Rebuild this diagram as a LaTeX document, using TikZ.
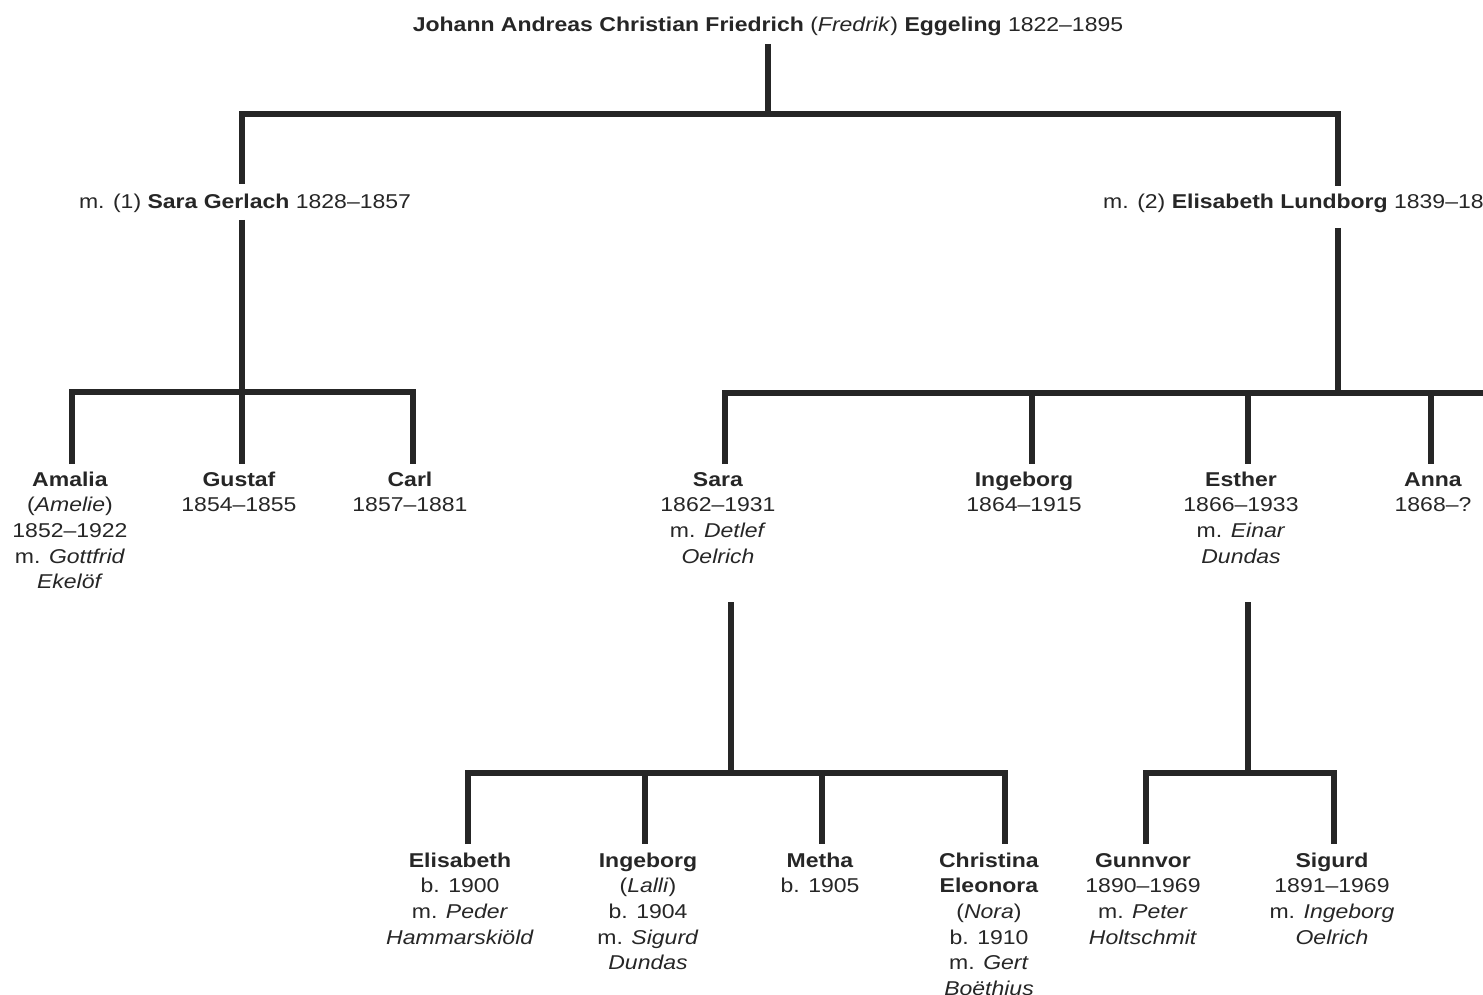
\documentclass[tikz,border=0pt]{standalone}
\usepackage{fontspec}
\setmainfont[FakeStretch=1.15]{Liberation Sans}
\begin{document}
\begin{tikzpicture}[x=1pt,y=-1pt,
  ln/.style={line width=5.5pt,color=black!85,line join=miter},
  txt/.style={inner sep=0pt,align=center,font=\fontsize{20}{25.7}\selectfont,text=black!85},
  pers/.style={txt,anchor=north}]
\useasboundingbox (0,0) rectangle (1483,995);
\clip (0,0) rectangle (1483,995);
% title and marriages
\node[txt,anchor=base] (T) at (768,32) {\textbf{Johann Andreas Christian Friedrich} (\textit{Fredrik}) \textbf{Eggeling} 1822--1895};
\node[txt,anchor=base] (M1) at (245,208) {m. (1) \textbf{Sara Gerlach} 1828--1857};
\node[txt,anchor=base west] (M2) at (1103,208) {m. (2) \textbf{Elisabeth Lundborg} 1839--1888};
% generation 2
\node[pers] (amalia) at (70,468) {\strut\textbf{Amalia}\\(\textit{Amelie})\\1852--1922\\m. \textit{Gottfrid}\\\textit{Ekelöf}};
\node[pers] (gustaf) at (239,468) {\strut\textbf{Gustaf}\\1854--1855};
\node[pers] (carl) at (410,468) {\strut\textbf{Carl}\\1857--1881};
\node[pers] (sara) at (718,468) {\strut\textbf{Sara}\\1862--1931\\m. \textit{Detlef}\\\textit{Oelrich}};
\node[pers] (ingeborg) at (1024,468) {\strut\textbf{Ingeborg}\\1864--1915};
\node[pers] (esther) at (1241,468) {\strut\textbf{Esther}\\1866--1933\\m. \textit{Einar}\\\textit{Dundas}};
\node[pers] (anna) at (1433,468) {\strut\textbf{Anna}\\1868--?};
% generation 3
\node[pers] (elisabeth) at (460,849) {\strut\textbf{Elisabeth}\\b. 1900\\m. \textit{Peder}\\\textit{Hammarskiöld}};
\node[pers] (ingeborg2) at (648,849) {\strut\textbf{Ingeborg}\\(\textit{Lalli})\\b. 1904\\m. \textit{Sigurd}\\\textit{Dundas}};
\node[pers] (metha) at (820,849) {\strut\textbf{Metha}\\b. 1905};
\node[pers] (christina) at (989,849) {\strut\textbf{Christina}\\\textbf{Eleonora}\\(\textit{Nora})\\b. 1910\\m. \textit{Gert}\\\textit{Boëthius}};
\node[pers] (gunnvor) at (1143,849) {\strut\textbf{Gunnvor}\\1890--1969\\m. \textit{Peter}\\\textit{Holtschmit}};
\node[pers] (sigurd) at (1332,849) {\strut\textbf{Sigurd}\\1891--1969\\m. \textit{Ingeborg}\\\textit{Oelrich}};
% junction coordinates
\coordinate (t0) at (768,44);
\coordinate (t1) at (768,114);
\coordinate (l0) at (242,184);
\coordinate (r0) at (1338,186);
\coordinate (l1) at (242,220);
\coordinate (l2) at (242,392);
\coordinate (r1) at (1338,228);
\coordinate (r2) at (1338,393);
\coordinate (re) at (1500,393);
\coordinate (s0) at (731,602);
\coordinate (s1) at (731,773);
\coordinate (e0) at (1248,602);
\coordinate (e1) at (1248,773);
% connectors
\draw[ln] (l0) -- (l0|-t1) -- (r0|-t1) -- (r0);
\draw[ln] (t0) -- (t1);
\draw[ln] (l1) -- (l2);
\draw[ln] (72,464) -- (72,392) -- (413,392) -- (413,464);
\draw[ln] (l2) -- (242,464);
\draw[ln] (r1) -- (r2);
\draw[ln] (725,464) -- (725,393) -- (re);
\draw[ln] (1032,393) -- (1032,464);
\draw[ln] (1248,393) -- (1248,464);
\draw[ln] (1431,393) -- (1431,464);
\draw[ln] (s0) -- (s1);
\draw[ln] (468,844) -- (468,773) -- (1005,773) -- (1005,844);
\draw[ln] (645,773) -- (645,844);
\draw[ln] (822,773) -- (822,844);
\draw[ln] (e0) -- (e1);
\draw[ln] (1146,844) -- (1146,773) -- (1334,773) -- (1334,844);
\end{tikzpicture}
\end{document}
